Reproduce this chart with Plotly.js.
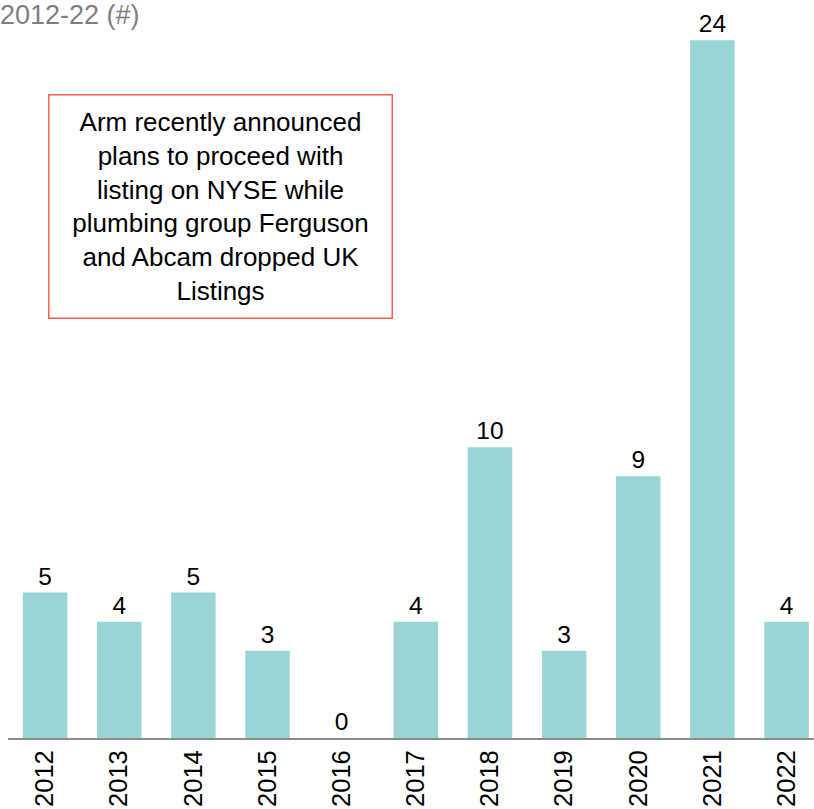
<!DOCTYPE html>
<html>
<head>
<meta charset="utf-8">
<script src="https://cdn.plot.ly/plotly-3.0.1.min.js"></script>
<style>html,body{margin:0;padding:0;background:#fff;}#chart{width:814px;height:809px;}</style>
</head>
<body>
<div id="chart"></div>
<script>
var years = ['2012','2013','2014','2015','2016','2017','2018','2019','2020','2021','2022'];
var listings = [5, 4, 5, 3, 0, 4, 10, 3, 9, 24, 4];
var titleText = '2012-22 (#)';
var noteText = 'Arm recently announced<br>plans to proceed with<br>listing on NYSE while<br>plumbing group Ferguson<br>and Abcam dropped UK<br>Listings';

var FONT = 'Arial, "Liberation Sans", sans-serif';

var trace = {
  type: 'bar',
  x: years,
  y: listings,
  width: 0.6,
  marker: {color: '#9AD5D5', line: {width: 0}},
  text: listings.map(String),
  textposition: 'outside',
  textfont: {family: FONT, size: 24.5, color: '#000'},
  cliponaxis: false,
  hoverinfo: 'none'
};

var layout = {
  width: 814, height: 809,
  margin: {l: 8, r: 0, t: 0, b: 71, pad: 0},
  paper_bgcolor: '#fff', plot_bgcolor: '#fff',
  showlegend: false,
  font: {family: FONT},
  title: {
    text: titleText,
    font: {family: FONT, size: 27, color: '#7f7f7f'},
    xref: 'container', x: 0, xanchor: 'left',
    yref: 'container', y: 0.982, yanchor: 'middle'
  },
  bargap: 0.4,
  xaxis: {
    type: 'category',
    range: [-0.5, 10.37],
    tickangle: -90,
    tickfont: {family: FONT, size: 25.5, color: '#000'},
    showline: true, linecolor: '#8c8c8c', linewidth: 2,
    ticks: '', showgrid: false, zeroline: false,
    fixedrange: true
  },
  yaxis: {
    range: [0, 25.38],
    visible: false, showgrid: false, zeroline: false,
    fixedrange: true
  },
  annotations: [{
    xref: 'x', yref: 'y',
    x: 2.36, y: 18.28,
    xanchor: 'center', yanchor: 'middle',
    text: noteText,
    showarrow: false,
    align: 'center',
    font: {family: FONT, size: 26, color: '#000'},
    bordercolor: '#F0614F', borderwidth: 1.5, borderpad: 0,
    bgcolor: '#fff',
    width: 342, height: 222
  }]
};

Plotly.newPlot('chart', [trace], layout, {displayModeBar: false, staticPlot: true});
</script>
</body>
</html>
